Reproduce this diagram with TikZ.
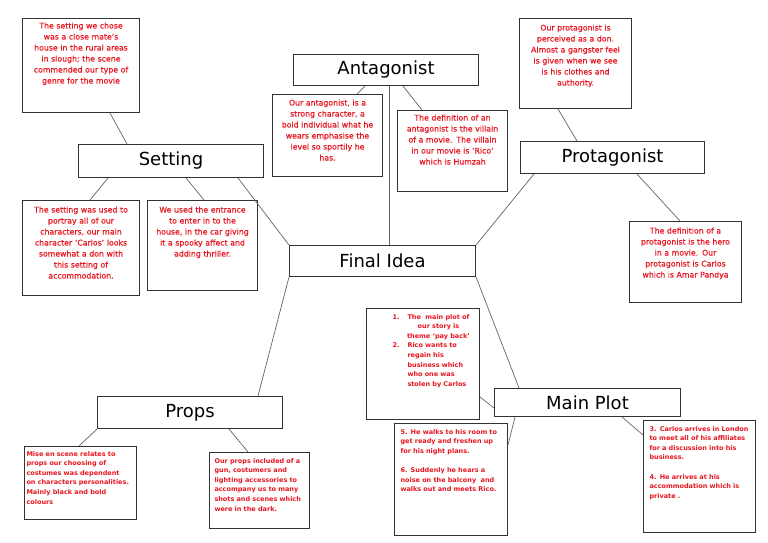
\documentclass[tikz,border=0pt]{standalone}
\usepackage{fontspec}
\setmainfont{DejaVu Sans}
\newfontfamily\heavyred[FakeBold=0.4]{DejaVu Sans}
\definecolor{notered}{RGB}{232,22,32}
\definecolor{boxgray}{RGB}{51,51,51}
\definecolor{wiregray}{RGB}{100,100,100}
\tikzset{
  title/.style={draw=boxgray, line width=1pt, anchor=north west, inner sep=0pt,
    font=\fontsize{18}{20}\selectfont},
  note/.style={draw=boxgray, line width=1pt, anchor=north west, inner sep=0pt,
    align=center, text=notered, font=\heavyred\fontsize{7.8}{11}\selectfont},
  plain/.style={note, align=left, font=\fontsize{6.5}{9.6}\selectfont\bfseries},
  link/.style={draw=wiregray, line width=0.7pt}
}
\begin{document}
\begin{tikzpicture}[x=1pt,y=-1pt]
  \useasboundingbox (0,0) rectangle (768,543);
  \fill[white] (0,0) rectangle (768,543);

  % main topics
  \node[title, minimum width=186, minimum height=31] (final) at (289,245) {Final Idea};
  \node[title, minimum width=185, minimum height=31] (antTitle) at (293,54) {Antagonist};
  \node[title, minimum width=184, minimum height=32] (proTitle) at (520,141) {Protagonist};
  \node[title, minimum width=185, minimum height=33] (setTitle) at (78,144) {Setting};
  \node[title, minimum width=185, minimum height=32] (props) at (97,396) {Props};
  \node[title, minimum width=186, minimum height=28] (plot) at (494,388) {Main Plot};

  % setting notes
  \node[note, text width=117pt, text height=10pt, text depth=84pt] (setTop) at (22,18)
    {The setting we chose\\was a close mate’s\\house in the rural areas\\in slough; the scene\\commended our type of\\genre for the movie};
  \node[note, text width=117pt, text height=12pt, text depth=83pt] (setNote1) at (22,200)
    {The setting was used to\\portray all of our\\characters, our main\\character ‘Carlos’ looks\\somewhat a don with\\this setting of\\accommodation.};
  \node[note, text width=110pt, text height=12pt, text depth=78pt] (setNote2) at (147,200)
    {We used the entrance\\to enter in to the\\house, in the car giving\\it a spooky affect and\\adding thriller.};

  % antagonist notes
  \node[note, text width=110pt, text height=11pt, text depth=71pt] (antNote1) at (272,94)
    {Our antagonist, is a\\strong character, a\\bold individual what he\\wears emphasise the\\level so sportily he\\has.};
  \node[note, text width=110pt, text height=10pt, text depth=71pt] (antNote2) at (397,110)
    {The definition of an\\antagonist is the villain\\of a movie. The villain\\in our movie is ‘Rico’\\which is Humzah};

  % protagonist notes
  \node[note, text width=112pt, text height=12pt, text depth=78pt] (proNote1) at (519,18)
    {Our protagonist is\\perceived as a don.\\Almost a gangster feel\\is given when we see\\is his clothes and\\authority.};
  \node[note, text width=112pt, text height=12pt, text depth=69pt] (proNote2) at (629,221)
    {The definition of a\\protagonist is the hero\\in a movie. Our\\protagonist is Carlos\\which is Amar Pandya};

  % main plot notes
  \node[plain, text width=113pt, text height=10.5pt, text depth=100.5pt] (plotList) at (366,308)
    {\begin{tabular}[t]{@{\hspace{26pt}}p{15pt}@{}l@{}}
      1. & \makebox[62pt]{The\ \ main plot of}\\
         & \makebox[62pt]{our story is}\\
         & \makebox[62pt]{theme ‘pay back’}\\
      2. & Rico wants to\\
         & regain his\\
         & business which\\
         & who one was\\
         & stolen by Carlos
    \end{tabular}};
  \node[plain, inner xsep=6pt, text width=101pt, text height=10.5pt, text depth=101.5pt] (plotNote56) at (394,423)
    {5. He walks to his room to\\get ready and freshen up\\for his night plans.\\[9.6pt]6. Suddenly he hears a\\noise on the balcony\ \ and\\walks out and meets Rico.};
  \node[plain, inner xsep=6pt, text width=100pt, text height=10.5pt, text depth=101.5pt] (plotNote34) at (643,420)
    {3. Carlos arrives in London\\to meet all of his affiliates\\for a discussion into his\\business.\\[9.6pt]4. He arrives at his\\accommodation which is\\private .};

  % props notes
  \node[plain, inner xsep=2pt, text width=108pt, text height=9.5pt, text depth=63.5pt] (propsNote1) at (24,446)
    {Mise en scene relates to\\props our choosing of\\costumes was dependent\\on characters personalities.\\Mainly black and bold\\colours};
  \node[plain, inner xsep=5pt, text width=90pt, text height=10.5pt, text depth=65.5pt] (propsNote2) at (209,452)
    {Our props included of a\\gun, costumers and\\lighting accessories to\\accompany us to many\\shots and scenes which\\were in the dark.};

  % connectors
  \draw[link] ([xshift=88]setTop.south west) -- ([xshift=49]setTitle.north west);
  \draw[link] ([xshift=30]setTitle.south west) -- ([xshift=68]setNote1.north west);
  \draw[link] ([xshift=108]setTitle.south west) -- ([xshift=57]setNote2.north west);
  \draw[link] ([xshift=160]setTitle.south west) -- (final.north west);
  \draw[link] ([xshift=72]antTitle.south west) -- ([xshift=85]antNote1.north west);
  \draw[link] ([xshift=110]antTitle.south west) -- ([xshift=25]antNote2.north west);
  \draw[link] ([xshift=96]antTitle.south west) -- ([xshift=100]final.north west);
  \draw[link] ([xshift=39]proNote1.south west) -- ([xshift=57]proTitle.north west);
  \draw[link] ([xshift=14]proTitle.south west) -- (final.north east);
  \draw[link] ([xshift=117]proTitle.south west) -- ([xshift=51]proNote2.north west);
  \draw[link] (final.south west) -- ([xshift=161]props.north west);
  \draw[link] (final.south east) -- ([xshift=25]plot.north west);
  \draw[link] ([yshift=-89]plotList.north east) -- ([yshift=-20]plot.north west);
  \draw[link] ([xshift=21]plot.south west) -- ([yshift=-22]plotNote56.north east);
  \draw[link] ([xshift=128]plot.south west) -- ([yshift=-15]plotNote34.north west);
  \draw[link] (props.south west) -- ([xshift=55]propsNote1.north west);
  \draw[link] ([xshift=132]props.south west) -- ([xshift=39]propsNote2.north west);
\end{tikzpicture}
\end{document}
